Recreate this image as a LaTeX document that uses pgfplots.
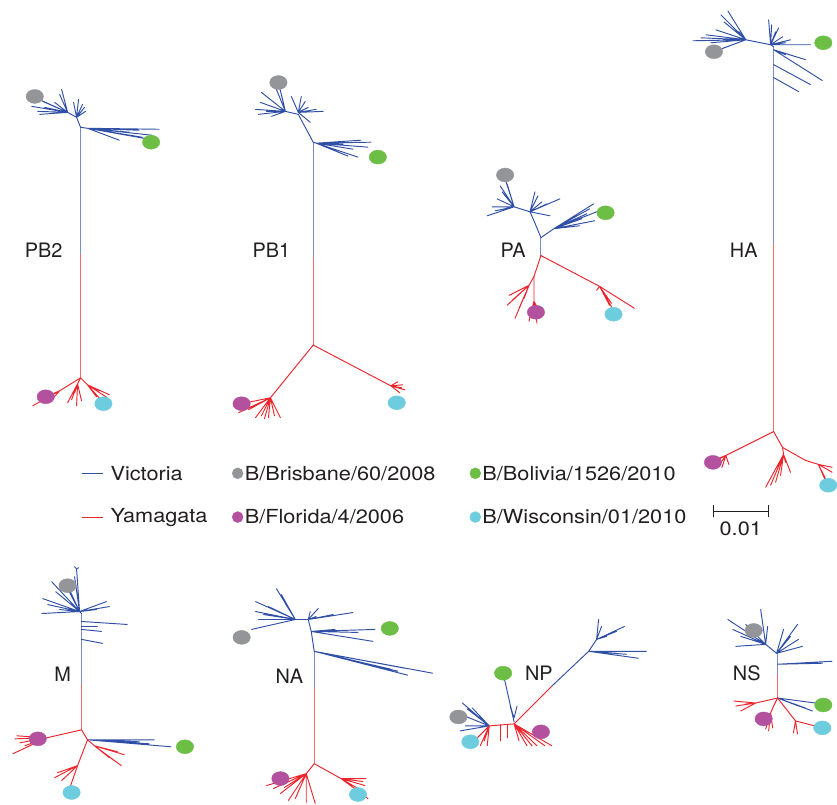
\documentclass[border=0pt]{standalone}
\usepackage{pgfplots}
\pgfplotsset{compat=1.18}
\usepackage{fontspec}
\setmainfont{TeX Gyre Heros}
\newfontfamily\legfont[FakeStretch=1.12]{TeX Gyre Heros}
\definecolor{vblue}{RGB}{48,80,168}
\definecolor{vtrunk}{RGB}{120,140,200}
\definecolor{yred}{RGB}{236,36,44}
\definecolor{ytrunk}{RGB}{240,110,115}
\definecolor{cgray}{RGB}{147,149,152}
\definecolor{cgreen}{RGB}{109,190,69}
\definecolor{cmag}{RGB}{179,81,159}
\definecolor{ccyan}{RGB}{109,204,221}
\definecolor{txt}{RGB}{35,31,32}
\tikzset{lab/.style={font=\fontsize{20}{24}\selectfont,text=txt},
  leg/.style={font=\legfont\fontsize{19.5}{23}\selectfont,text=txt,inner sep=2pt}}
\begin{document}
\begin{tikzpicture}
\begin{axis}[width=837pt,height=809pt,scale only axis,
  xmin=0,xmax=837,ymin=0,ymax=809,y dir=reverse,
  axis line style={draw=none},ticks=none,clip=true,
  vic/.style={color=vblue,line width=0.95pt,no marks,line join=round,line cap=round},
  yam/.style={color=yred,line width=0.95pt,no marks,line join=round,line cap=round},
  vt/.style={color=vtrunk,line width=0.9pt,no marks},
  yt/.style={color=ytrunk,line width=0.9pt,no marks},
  dot/.style={only marks,color=#1,mark=*,mark size=7pt,mark options={xscale=1.25,draw=#1,fill=#1}},
  ldot/.style={only marks,color=#1,mark=*,mark size=5.5pt,mark options={draw=#1,fill=#1}},
]
% ---------------- PB2
\addplot[vt] coordinates {(81,128)(81,255)};
\addplot[yt] coordinates {(81,255)(81,380)};
\addplot[vic] coordinates {(81,128)(77,118)(68,113)(32,107)(68,113)(40,115)(68,113)(62,90)(68,113)(43,102)(68,113)(35,98)(68,113)(50,110)(68,113)(55,103)(68,113)(60,95)(68,113)(45,108)(68,113)(38,112)};
\addplot[vic] coordinates {(77,118)(74,103)(77,118)(83,105)(77,118)(85,108)(77,118)(79,100)(77,118)(86,112)};
\addplot[vic] coordinates {(81,128)(88,129)(160,130)(88,129)(153,136)(88,129)(120,141)(88,129)(143,138)(88,129)(140,131)(88,129)(130,133)(88,129)(150,140)};
\addplot[yam] coordinates {(81,380)(60,393)(33,408)(60,393)(46,399)(60,393)(52,402)(60,393)(40,404)};
\addplot[yam] coordinates {(81,380)(78,386)(72,402)(78,386)(82,403)(78,386)(77,408)(78,386)(68,405)(78,386)(75,395)};
\addplot[yam] coordinates {(81,380)(88,387)(110,397)(88,387)(100,393)(88,387)(104,405)(88,387)(108,400)(88,387)(97,399)};
% ---------------- PB1
\addplot[vt] coordinates {(315,143)(315,258)};
\addplot[yt] coordinates {(315,258)(315,347)};
\addplot[vic] coordinates {(315,143)(300,115)(287,112)(257,110)(287,112)(263,93)(287,112)(273,117)(287,112)(280,83)(287,112)(278,90)(287,112)(262,103)(287,112)(268,112)(287,112)(283,95)(287,112)(260,115)};
\addplot[vic] coordinates {(300,113)(293,97)(300,113)(307,102)(300,113)(325,112)(300,113)(312,123)(300,113)(303,97)(300,113)(310,108)(300,113)(318,110)};
\addplot[vic] coordinates {(315,143)(318,144)(373,143)(318,144)(363,141)(318,144)(360,158)(318,144)(350,157)(318,144)(370,148)(318,144)(355,150)(318,144)(345,145)};
\addplot[yam] coordinates {(315,347)(272,400)(243,406)(272,400)(257,420)(272,400)(270,420)(272,400)(282,420)(272,400)(240,415)(272,400)(250,412)(272,400)(263,418)(272,400)(276,418)(272,400)(266,421)};
\addplot[yam] coordinates {(315,347)(393,388)(405,387)(393,388)(402,395)(393,388)(407,392)(393,388)(400,384)(393,388)(404,390)};
% ---------------- PA
\addplot[vt] coordinates {(544,239)(544,257)};
\addplot[vic] coordinates {(544,239)(537,222)(533,213)(517,208)(490,217)(517,208)(503,187)(517,208)(508,180)(517,208)(495,208)(517,208)(500,200)(517,208)(505,193)(517,208)(498,212)(517,208)(510,185)};
\addplot[vic] coordinates {(533,213)(538,193)(533,213)(545,203)(533,213)(563,200)(533,213)(553,217)(533,213)(541,197)(533,213)(550,205)};
\addplot[vic] coordinates {(544,239)(557,230)(597,205)(557,230)(598,222)(557,230)(593,210)(557,230)(583,227)(557,230)(590,215)(557,230)(585,220)(557,230)(600,213)};
\addplot[yam] coordinates {(544,257)(537,278)(532,287)(512,297)(532,287)(510,307)(532,287)(527,300)(532,287)(518,320)(532,287)(515,302)(532,287)(522,310)};
\addplot[yam] coordinates {(537,278)(537,303)(532,323)(537,303)(542,312)(537,303)(539,314)(537,303)(535,320)(537,303)(540,325)};
\addplot[yam] coordinates {(544,257)(603,288)(638,310)};
\addplot[yam] coordinates {(603,288)(600,292)(603,288)(613,307)(603,288)(617,312)(603,288)(610,300)(603,288)(615,305)};
% ---------------- HA
\addplot[vt] coordinates {(778,47)(778,245)};
\addplot[yt] coordinates {(778,245)(778,434)};
\addplot[vic] coordinates {(778,47)(775,45)(750,40)(697,41)(750,40)(710,35)(750,40)(725,15)(750,40)(732,11)(750,40)(743,32)(750,40)(723,50)(750,40)(718,52)(750,40)(705,38)(750,40)(715,43)(750,40)(728,22)(750,40)(720,30)};
\addplot[vic] coordinates {(775,45)(773,20)(775,45)(780,32)(775,45)(790,43)(775,45)(787,37)(775,45)(815,45)(775,45)(776,25)(775,45)(783,28)(775,45)(795,40)};
\addplot[vic] coordinates {(778,50)(827,81)(778,50)(800,57)(778,50)(810,60)(778,50)(790,55)};
\addplot[vic] coordinates {(778,65)(815,85)};
\addplot[vic] coordinates {(778,78)(803,92)};
\addplot[yam] coordinates {(778,434)(730,458)(717,465)(730,458)(723,468)(730,458)(733,467)(730,458)(720,462)(730,458)(726,470)};
\addplot[yam] coordinates {(778,434)(787,450)(810,463)(823,467)(837,475)(823,467)(833,487)(823,467)(830,483)(823,467)(837,470)};
\addplot[yam] coordinates {(787,450)(788,457)(770,490)(788,457)(780,485)(788,457)(795,475)(788,457)(790,465)(788,457)(775,488)(788,457)(785,478)};
% ---------------- M
\addplot[vt] coordinates {(82,617)(82,688)};
\addplot[yt] coordinates {(82,688)(82,734)};
\addplot[vic] coordinates {(82,617)(80,615)(77,572)(80,615)(68,589)(80,615)(52,585)(80,615)(43,602)(80,615)(42,617)(80,615)(60,613)(80,615)(67,590)(80,615)(107,605)(80,615)(110,610)(80,615)(97,613)(80,615)(48,608)(80,615)(56,595)(80,615)(75,580)};
\addplot[vic] coordinates {(75,570)(77,572)(79,571)};
\addplot[vic] coordinates {(82,625)(128,628)};
\addplot[vic] coordinates {(82,630)(98,630)};
\addplot[vic] coordinates {(82,633)(102,635)};
\addplot[vic] coordinates {(82,643)(103,647)};
\addplot[yam] coordinates {(82,734)(47,742)(13,758)(47,742)(15,743)(47,742)(20,747)(47,742)(17,740)(47,742)(25,750)(47,742)(38,743)};
\addplot[yam] coordinates {(82,734)(88,744)};
\addplot[vic] coordinates {(88,744)(155,744)(88,744)(150,748)(88,744)(172,751)(88,744)(140,746)};
\addplot[yam] coordinates {(88,744)(95,750)(125,759)(95,750)(122,770)(95,750)(110,762)(95,750)(115,765)(95,750)(118,756)};
\addplot[yam] coordinates {(88,744)(78,770)(70,793)(68,800)(70,793)(72,797)};
\addplot[yam] coordinates {(78,770)(55,782)(78,770)(58,777)(78,770)(62,785)};
% ---------------- NA
\addplot[vt] coordinates {(316,655)(316,692)};
\addplot[yt] coordinates {(316,692)(316,768)};
\addplot[vic] coordinates {(316,655)(313,635)(310,623)(297,623)(257,605)(297,623)(257,615)(297,623)(260,623)(297,623)(253,633)(297,623)(278,592)(297,623)(287,607)(297,623)(270,610)(297,623)(265,618)(297,623)(283,598)};
\addplot[vic] coordinates {(310,623)(355,616)(310,623)(320,612)(310,623)(318,620)(310,623)(335,618)(310,623)(312,615)};
\addplot[vic] coordinates {(313,635)(377,633)(313,635)(375,645)(313,635)(337,633)(313,635)(360,636)};
\addplot[vic] coordinates {(316,655)(435,677)(316,655)(407,672)(316,655)(410,679)(316,655)(393,673)(316,655)(400,675)};
\addplot[yam] coordinates {(316,768)(308,778)(268,790)(308,778)(275,793)(308,778)(282,798)(308,778)(297,803)(308,778)(308,807)(308,778)(317,808)(308,778)(290,805)(308,778)(286,792)};
\addplot[yam] coordinates {(316,768)(343,783)(368,783)(343,783)(367,790)(343,783)(370,803)(343,783)(360,793)(343,783)(365,786)};
% ---------------- NP
\addplot[vic] coordinates {(506,677)(517,726)};
\addplot[vic] coordinates {(513,710)(517,722)(520,710)};
\addplot[yam] coordinates {(517,728)(555,690)};
\addplot[vic] coordinates {(555,690)(592,655)(600,643)(602,623)(600,643)(628,630)(600,643)(620,635)(600,643)(610,640)(600,643)(605,630)};
\addplot[vic] coordinates {(592,655)(650,655)(592,655)(642,662)(592,655)(620,657)(592,655)(630,658)};
\addplot[yam] coordinates {(517,728)(492,730)};
\addplot[vic] coordinates {(492,730)(465,707)(492,730)(470,713)(492,730)(467,720)(492,730)(468,730)(492,730)(463,735)(492,730)(475,712)};
\addplot[yam] coordinates {(492,730)(490,750)(492,730)(483,750)(492,730)(475,747)(492,730)(487,745)};
\addplot[yam] coordinates {(503,729)(503,745)};
\addplot[yam] coordinates {(510,729)(510,742)};
\addplot[yam] coordinates {(517,728)(555,750)(517,728)(540,750)(517,728)(530,750)(517,728)(522,745)(517,728)(548,750)(517,728)(535,750)};
% ---------------- NS
\addplot[vt] coordinates {(782,657)(782,678)};
\addplot[yt] coordinates {(782,678)(782,702)};
\addplot[vic] coordinates {(781,657)(770,648)(732,623)(770,648)(737,633)(770,648)(740,650)(770,648)(753,637)(770,648)(765,613)(770,648)(772,630)(770,648)(745,640)(770,648)(750,628)};
\addplot[vic] coordinates {(781,657)(802,628)(781,657)(803,643)(781,657)(807,650)(781,657)(788,633)(781,657)(795,640)};
\addplot[vic] coordinates {(782,668)(837,665)(782,668)(827,667)};
\addplot[yam] coordinates {(782,702)(760,707)(738,705)(760,707)(740,710)(760,707)(745,715)(760,707)(750,708)};
\addplot[yam] coordinates {(782,702)(778,710)(775,717)(770,733)(775,717)(777,732)(775,717)(768,723)(775,717)(773,735)};
\addplot[vic] coordinates {(782,702)(820,707)(782,702)(817,715)(782,702)(803,710)(782,702)(810,712)};
\addplot[yam] coordinates {(782,702)(800,725)(827,732)};
\addplot[yam] coordinates {(800,725)(802,738)(800,725)(798,737)};
% ---------------- dots
\addplot[dot=cgray] coordinates {(35,97)(280,83)(508,176)(718,52)(68,589)(243,641)(461,721)(758,634)};
\addplot[dot=cgreen] coordinates {(152,143)(380,158)(609,214)(828,43)(186,751)(392,632)(506,677)(828,709)};
\addplot[dot=cmag] coordinates {(46,399)(243,406)(539,314)(717,465)(38,743)(282,783)(544,736)(768,723)};
\addplot[dot=ccyan] coordinates {(104,406)(399,405)(617,316)(833,488)(72,797)(360,799)(473,746)(827,732)};
% ---------------- legend
\addplot[color=vblue,line width=0.8pt,no marks] coordinates {(82,476)(104,476)};
\addplot[color=yred,line width=0.8pt,no marks] coordinates {(82,520)(104,520)};
\addplot[ldot=cgray] coordinates {(239,476)};
\addplot[ldot=cgreen] coordinates {(478,476)};
\addplot[ldot=cmag] coordinates {(239,520)};
\addplot[ldot=ccyan] coordinates {(478,520)};
\node[leg,anchor=west] at (axis cs:109,476) {Victoria};
\node[leg,anchor=west] at (axis cs:109,520) {Yamagata};
\node[leg,anchor=west] at (axis cs:244,476) {B/Brisbane/60/2008};
\node[leg,anchor=west] at (axis cs:244,520) {B/Florida/4/2006};
\node[leg,anchor=west] at (axis cs:483,476) {B/Bolivia/1526/2010};
\node[leg,anchor=west] at (axis cs:483,520) {B/Wisconsin/01/2010};
% scale bar
\addplot[color=txt,line width=0.8pt,no marks] coordinates {(717,508)(717,520)(717,514)(773,514)(773,508)(773,520)};
\node[leg] at (axis cs:745,532) {0.01};
% tree labels
\node[lab] at (axis cs:44,252) {PB2};
\node[lab] at (axis cs:273,252) {PB1};
\node[lab] at (axis cs:516,252) {PA};
\node[lab] at (axis cs:748,252) {HA};
\node[lab] at (axis cs:63,678) {M};
\node[lab] at (axis cs:291,680) {NA};
\node[lab] at (axis cs:542,677) {NP};
\node[lab] at (axis cs:751,677) {NS};
\end{axis}
\end{tikzpicture}
\end{document}
